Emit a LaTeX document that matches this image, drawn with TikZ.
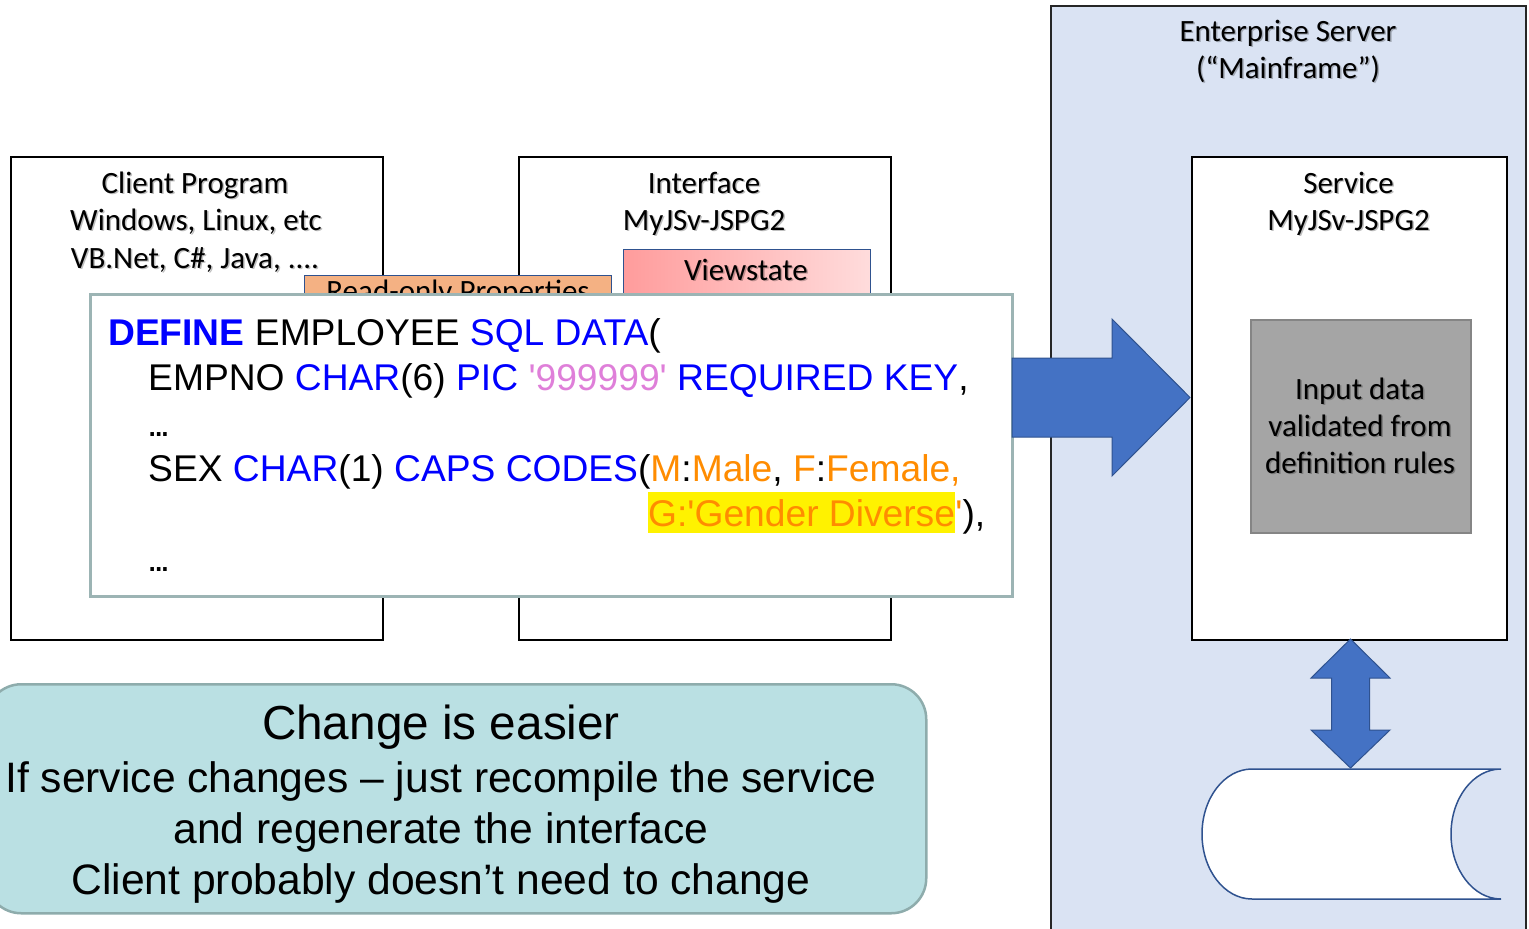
\documentclass[tikz,border=0pt]{standalone}
\usepackage{fontspec}
\setmainfont{Carlito}
\newfontfamily\arialf{Liberation Sans}
\definecolor{srvfill}{HTML}{DAE3F3}
\definecolor{arrfill}{HTML}{4472C4}
\definecolor{arrline}{HTML}{2F528F}
\definecolor{grayfill}{HTML}{A5A5A5}
\definecolor{grayline}{HTML}{858585}
\definecolor{tealfill}{HTML}{BAE0E3}
\definecolor{tealline}{HTML}{8EACAC}
\definecolor{codeline}{HTML}{9CB4B4}
\definecolor{kwblue}{HTML}{0000FF}
\definecolor{pinkc}{HTML}{DF7FD9}
\definecolor{orangec}{HTML}{FF8C00}
\definecolor{roprop}{HTML}{F4B183}
\definecolor{vsL}{HTML}{FF9C9C}
\definecolor{vsR}{HTML}{FFDCDC}
\tikzset{
 lbl/.style={anchor=base, inner sep=0pt, font=\fontsize{31}{37}\selectfont},
 lblsh/.style={lbl, text=black, text opacity=0.25, xshift=1.5pt, yshift=-1.5pt},
 code/.style={anchor=base west, inner sep=0pt, font=\arialf\fontsize{37.2}{45}\selectfont},
 bigtext/.style={anchor=base, inner sep=0pt, font=\arialf\fontsize{42.6}{51}\selectfont},
 boxk/.style={draw=black, line width=1.5pt, fill=white, anchor=north west, inner sep=0pt},
 blockarrow/.style={fill=arrfill, draw=arrline, line width=1pt, line join=miter},
}
\newcommand\lbl[3]{\node[lblsh] at (#2) {#3}; \node[lbl] (#1) at (#2) {#3};}
\newcommand\kw[1]{{\color{kwblue}#1}}
\newcommand\og[1]{{\color{orangec}#1}}
\newcommand\tightdots{.\kern-4pt.\kern-4pt.}
\begin{document}
\begin{tikzpicture}[x=1pt,y=-1pt]
\useasboundingbox (0,0) rectangle (1529,929);
\clip (0,0) rectangle (1529,929);
% enterprise server
\node[draw=black!85, line width=2pt, fill=srvfill, anchor=north west, inner sep=0pt, minimum width=475pt, minimum height=940pt] (server) at (1050,5) {};
\lbl{es1}{1288,41}{Enterprise Server}
\lbl{es2}{1288,78}{(“Mainframe”)}
% service
\node[boxk, minimum width=315pt, minimum height=483pt] (service) at (1191,156) {};
\lbl{sv1}{1348.5,193}{Service}
\lbl{sv2}{1348.5,230}{MyJSv-JSPG2}
\node[fill=grayfill, draw=grayline, line width=1.5pt, anchor=north west, inner sep=0pt, minimum width=220pt, minimum height=213pt] (valid) at (1250,319) {};
\lbl{v1}{1360,399}{Input data}
\lbl{v2}{1360,436}{validated from}
\lbl{v3}{1360,473}{definition rules}
% double arrow
\draw[blockarrow] (1350.5,639) -- (1390,678) -- (1369.5,678) -- (1369.5,730) -- (1390,730) -- (1350.5,768) -- (1311,730) -- (1331.5,730) -- (1331.5,678) -- (1311,678) -- cycle;
% cylinder
\draw[fill=white, draw=arrline, line width=1.5pt] (1501,769) -- (1252,769)
  .. controls (1224.4,769) and (1202,798.1) .. (1202,834)
  .. controls (1202,869.9) and (1224.4,899) .. (1252,899)
  -- (1501,899)
  .. controls (1473.4,899) and (1451,869.9) .. (1451,834)
  .. controls (1451,798.1) and (1473.4,769) .. (1501,769);
% client and interface
\node[boxk, minimum width=372pt, minimum height=483pt] (client) at (10,156) {};
\lbl{c1}{195,193}{Client Program}
\lbl{c2}{196,230}{Windows, Linux, etc}
\lbl{c3}{195,268}{VB.Net, C\#, Java, ....}
\node[boxk, minimum width=372pt, minimum height=483pt] (iface) at (518,156) {};
\lbl{i1}{704,193}{Interface}
\lbl{i2}{704,230}{MyJSv-JSPG2}
\node[fill=roprop, draw=arrline, line width=1pt, anchor=north west, inner sep=0pt, minimum width=307pt, minimum height=45pt] (ro) at (304,275) {};
\node[lbl] (rot) at (458,301) {Read-only Properties};
\node[left color=vsL, right color=vsR, draw=arrline, line width=1pt, anchor=north west, inner sep=0pt, minimum width=247pt, minimum height=70pt] (vs) at (623,249) {};
\lbl{vst}{746,280}{Viewstate}
% code box
\node[fill=white, draw=codeline, line width=2.5pt, anchor=north west, inner sep=0pt, minimum width=922pt, minimum height=302pt] (code) at (89,293) {};
\node[code] (l1) at (108,345) {\kw{\bfseries DEFINE} EMPLOYEE \kw{SQL DATA}(};
\node[code] (l2) at (148,390) {EMPNO \kw{CHAR}(6) \kw{PIC} {\color{pinkc}\textquotesingle 999999\textquotesingle} \kw{REQUIRED KEY},};
\node[code] (l3) at (147,436) {\tightdots};
\node[code] (l4) at (148,481) {SEX \kw{CHAR}(1) \kw{CAPS CODES}(\og{M}:\og{Male}, \og{F}:\og{Female,}};
\node[code, fill=yellow, text height=34pt, text depth=7pt] (hl) at (648,526) {\og{G:\textquotesingle Gender Diverse}};
\node[code] (l5) at (hl.base east) {\og{\textquotesingle}),};
\node[code] (l6) at (147,571) {\tightdots};
% big arrow
\draw[blockarrow] (1012,358) -- (1112,358) -- (1112,319) -- (1190,397.5) -- (1112,476) -- (1112,437) -- (1012,437) -- cycle;
% note
\node[fill=tealfill, draw=tealline, line width=2.5pt, rounded corners=35pt, anchor=north west, inner sep=0pt, minimum width=940pt, minimum height=229pt] (note) at (-15,683) {};
\node[bigtext, font=\arialf\fontsize{47.7}{55}\selectfont] (n1) at (441,739) {Change is easier};
\node[bigtext] (n2) at (441,792) {If service changes – just recompile the service};
\node[bigtext] (n3) at (441,843) {and regenerate the interface};
\node[bigtext] (n4) at (441,894) {Client probably doesn’t need to change};
\end{tikzpicture}
\end{document}
